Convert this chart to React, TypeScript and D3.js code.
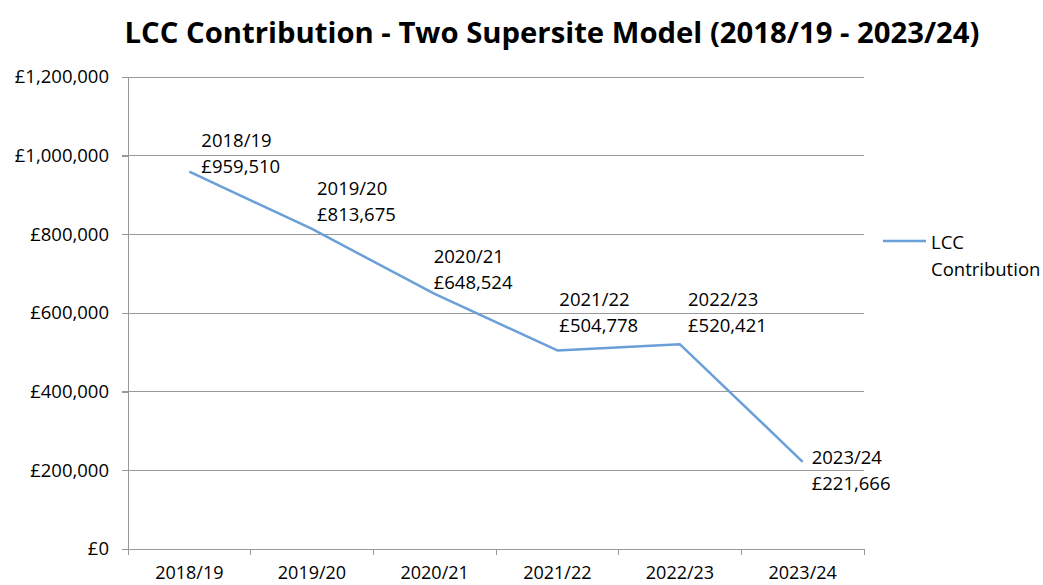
import React, { useEffect, useRef } from "react";
import * as d3 from "d3";

const years = ["2018/19", "2019/20", "2020/21", "2021/22", "2022/23", "2023/24"];
const contribution = [959510, 813675, 648524, 504778, 520421, 221666];
const yTicks = [0, 200000, 400000, 600000, 800000, 1000000, 1200000];
// label nudges (px) relative to each point, like Excel placed them
const labelDx = [12, 5, -1, 2, 8, 9];
const labelDy = [-33, -42, -39, -52, -46, -6];

const FONT = "'Open Sans', 'DejaVu Sans', sans-serif";
const LINE = "#6a9fd8";
const GRID = "#999999";

const App = () => {
  const ref = useRef<SVGSVGElement>(null);

  useEffect(() => {
    const width = 1043;
    const height = 585;
    const margin = { top: 77, right: 179, bottom: 36, left: 128 };

    const svg = d3.select(ref.current).attr("width", width).attr("height", height);
    svg.selectAll("*").remove();

    const x = d3
      .scaleBand()
      .domain(years)
      .range([margin.left, width - margin.right]);
    const y = d3
      .scaleLinear()
      .domain([0, 1200000])
      .range([height - margin.bottom, margin.top]);

    const fmt = (v: number) => "£" + d3.format(",")(v);

    // title
    svg
      .append("text")
      .attr("x", 552)
      .attr("y", 43)
      .attr("text-anchor", "middle")
      .attr("font-family", FONT)
      .attr("font-weight", "bold")
      .attr("font-size", 28)
      .attr("textLength", 855)
      .attr("lengthAdjust", "spacingAndGlyphs")
      .attr("fill", "#000")
      .text("LCC Contribution - Two Supersite Model (2018/19 - 2023/24)");

    // gridlines
    svg
      .append("g")
      .selectAll("line")
      .data(yTicks.filter((d) => d > 0))
      .join("line")
      .attr("x1", margin.left - 6)
      .attr("x2", width - margin.right)
      .attr("y1", (d) => y(d))
      .attr("y2", (d) => y(d))
      .attr("stroke", GRID)
      .attr("stroke-width", 1)
      .attr("shape-rendering", "crispEdges");

    // y axis
    const yAxis = d3
      .axisLeft(y)
      .tickValues(yTicks)
      .tickSize(6)
      .tickPadding(13)
      .tickFormat((d) => fmt(d as number));
    svg
      .append("g")
      .attr("transform", `translate(${margin.left},0)`)
      .call(yAxis)
      .call((g) => {
        g.select(".domain").attr("stroke", GRID).attr("shape-rendering", "crispEdges");
        g.selectAll(".tick line").attr("stroke", GRID).attr("shape-rendering", "crispEdges");
        g.selectAll(".tick text")
          .attr("font-family", FONT)
          .attr("font-size", 18.5)
          .attr("fill", "#000");
      });

    // x axis: ticks at band edges, labels at centers
    const xAxisG = svg
      .append("g")
      .attr("transform", `translate(0,${height - margin.bottom})`);
    xAxisG
      .append("line")
      .attr("x1", margin.left - 6)
      .attr("x2", width - margin.right)
      .attr("stroke", GRID)
      .attr("shape-rendering", "crispEdges");
    const edges = years.map((d) => x(d) as number).concat([width - margin.right]);
    xAxisG
      .selectAll("line.tick")
      .data(edges)
      .join("line")
      .attr("class", "tick")
      .attr("x1", (d) => d)
      .attr("x2", (d) => d)
      .attr("y1", 0)
      .attr("y2", 6)
      .attr("stroke", GRID)
      .attr("shape-rendering", "crispEdges");
    xAxisG
      .selectAll("text")
      .data(years)
      .join("text")
      .attr("x", (d) => (x(d) as number) + x.bandwidth() / 2)
      .attr("y", 23)
      .attr("dominant-baseline", "central")
      .attr("text-anchor", "middle")
      .attr("font-family", FONT)
      .attr("font-size", 18)
      .attr("fill", "#000")
      .text((d) => d);

    // line
    const pts = years.map((d, i) => ({
      year: d,
      value: contribution[i],
      px: (x(d) as number) + x.bandwidth() / 2,
      py: y(contribution[i]),
      dx: labelDx[i],
      dy: labelDy[i],
    }));
    const line = d3
      .line<(typeof pts)[number]>()
      .x((d) => d.px)
      .y((d) => d.py);
    svg
      .append("path")
      .datum(pts)
      .attr("d", line)
      .attr("fill", "none")
      .attr("stroke", LINE)
      .attr("stroke-width", 2.5)
      .attr("stroke-linejoin", "round");

    // data labels
    const lab = svg
      .append("g")
      .selectAll("text")
      .data(pts)
      .join("text")
      .attr("font-family", FONT)
      .attr("font-size", 18.5)
      .attr("fill", "#000")
      .attr("dominant-baseline", "central");
    lab
      .append("tspan")
      .attr("x", (d) => d.px + d.dx)
      .attr("y", (d) => d.py + d.dy)
      .text((d) => d.year);
    lab
      .append("tspan")
      .attr("x", (d) => d.px + d.dx)
      .attr("y", (d) => d.py + d.dy + 26)
      .text((d) => fmt(d.value));

    // legend
    const lg = svg.append("g").attr("transform", "translate(883,241)");
    lg.append("line")
      .attr("x1", 0)
      .attr("x2", 43)
      .attr("stroke", LINE)
      .attr("stroke-width", 2.5);
    const lt = lg
      .append("text")
      .attr("font-family", FONT)
      .attr("font-size", 18.5)
      .attr("fill", "#000")
      .attr("dominant-baseline", "central");
    lt.append("tspan").attr("x", 48).attr("y", 0).text("LCC");
    lt.append("tspan").attr("x", 48).attr("y", 27).text("Contribution");
  }, []);

  return (
    <div style={{ position: "absolute", left: 0, top: 0 }}>
      <svg ref={ref} style={{ display: "block", background: "#fff" }}></svg>
    </div>
  );
};

export default App;
